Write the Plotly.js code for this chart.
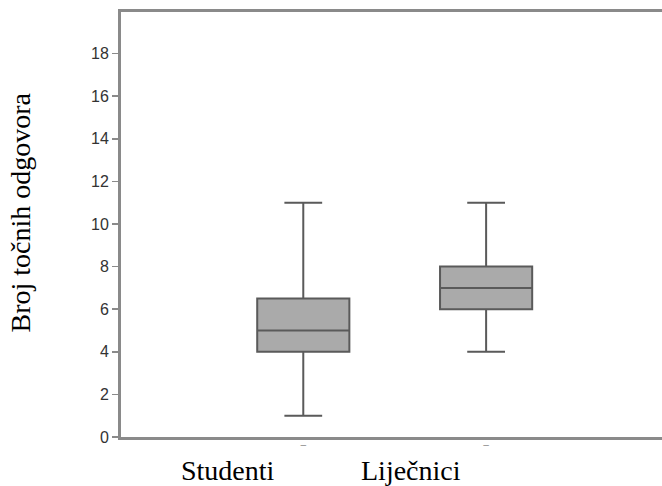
<!DOCTYPE html>
<html>
<head>
<meta charset="utf-8">
<script src="https://cdn.plot.ly/plotly-3.0.1.min.js"></script>
<style>html,body{margin:0;padding:0;background:#fff;}#chart{width:662px;height:486px;}</style>
</head>
<body>
<div id="chart"></div>
<script>
var categories = ["Studenti", "Liječnici"];
var positions = [1, 2];
var lowerFence = [1, 4];
var q1Values = [4, 6];
var medianValues = [5, 7];
var q3Values = [6.5, 8];
var upperFence = [11, 11];
var yTickValues = [0, 2, 4, 6, 8, 10, 12, 14, 16, 18];
var yAxisTitle = "Broj točnih odgovora";

var trace = {
  type: "box",
  x: positions,
  lowerfence: lowerFence,
  q1: q1Values,
  median: medianValues,
  q3: q3Values,
  upperfence: upperFence,
  width: 0.504,
  whiskerwidth: 0.41,
  fillcolor: "#aaaaaa",
  line: {color: "#5a5a5a", width: 2},
  boxpoints: false,
  hoverinfo: "skip",
  showlegend: false
};

var annotations = categories.map(function (c, i) {
  return {
    text: c, x: positions[i] - 0.41, xref: "x", y: -0.12, yref: "paper",
    xanchor: "center", yanchor: "bottom", showarrow: false,
    font: {family: "Liberation Serif, Times New Roman, serif", size: 28, color: "#000"}
  };
});
annotations.push({
  text: yAxisTitle, x: -0.185, xref: "paper", y: 0.528, yref: "paper",
  xanchor: "center", yanchor: "middle", textangle: -90, showarrow: false,
  font: {family: "Liberation Serif, Times New Roman, serif", size: 28, color: "#000"}
});

var layout = {
  width: 662, height: 486,
  margin: {l: 121, r: 0, t: 12, b: 49},
  paper_bgcolor: "#fff", plot_bgcolor: "#fff",
  xaxis: {
    range: [0.003, 2.962],
    showgrid: false, zeroline: false,
    showline: true, mirror: true, linecolor: "#8a8a8a", linewidth: 3,
    tickmode: "array", tickvals: positions, ticktext: ["‾", "‾"],
    ticks: "", tickfont: {family: "Liberation Sans, Arial, sans-serif", size: 14, color: "#999"}
  },
  yaxis: {
    range: [0, 19.95],
    showgrid: false, zeroline: false,
    showline: true, linecolor: "#8a8a8a", linewidth: 3,
    tickmode: "array", tickvals: yTickValues,
    ticks: "outside", ticklen: 6, tickwidth: 1.5, tickcolor: "#8a8a8a",
    tickfont: {family: "Liberation Sans, Arial, sans-serif", size: 16, color: "#333"}
  },
  annotations: annotations
};

Plotly.newPlot("chart", [trace], layout, {displayModeBar: false, staticPlot: true});
</script>
</body>
</html>
